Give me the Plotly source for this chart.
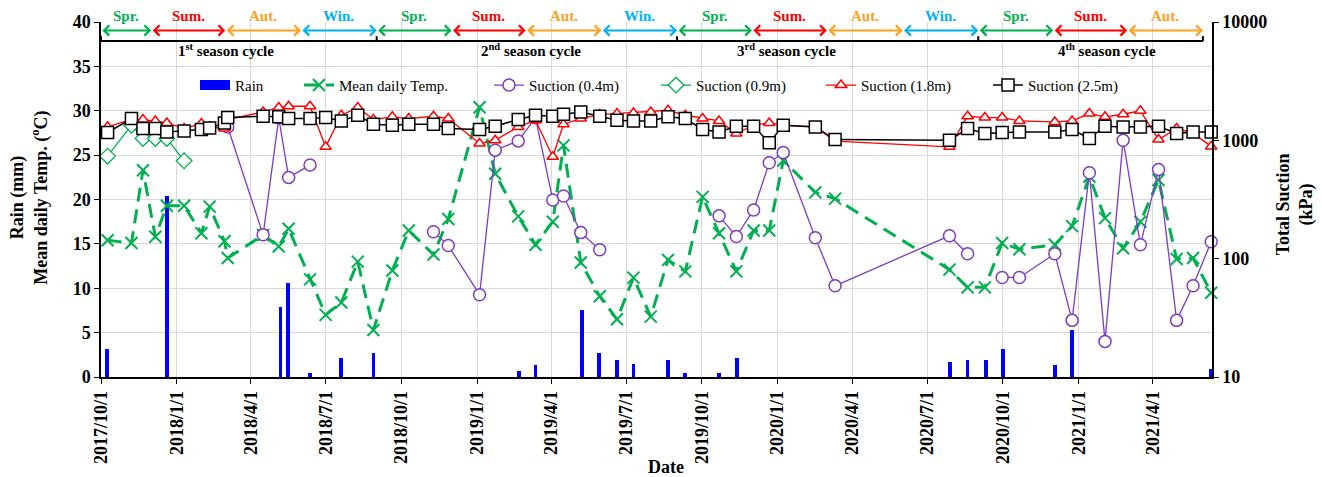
import pandas as pd
import plotly.graph_objects as go

SERIF = "Liberation Serif"

# ---- field records -------------------------------------------------------
sample_dates = [
    "2017-10-09", "2017-11-07", "2017-11-21", "2017-12-06", "2017-12-20",
    "2018-01-10", "2018-01-31", "2018-02-10", "2018-02-28", "2018-03-04",
    "2018-04-16", "2018-05-05", "2018-05-17", "2018-06-12", "2018-07-01",
    "2018-07-20", "2018-08-09", "2018-08-28", "2018-09-20", "2018-10-10",
    "2018-11-09", "2018-11-27", "2019-01-04", "2019-01-23", "2019-02-20",
    "2019-03-13", "2019-04-03", "2019-04-16", "2019-05-07", "2019-05-30",
    "2019-06-20", "2019-07-10", "2019-07-31", "2019-08-21", "2019-09-11",
    "2019-10-02", "2019-10-22", "2019-11-12", "2019-12-03", "2019-12-22",
    "2020-01-08", "2020-02-16", "2020-03-11", "2020-07-28", "2020-08-19",
    "2020-09-09", "2020-09-30", "2020-10-21", "2020-12-03", "2020-12-24",
    "2021-01-14", "2021-02-02", "2021-02-24", "2021-03-17", "2021-04-08",
    "2021-04-30", "2021-05-20", "2021-06-11",
]

mean_temp = [
    15.4, 15.1, 23.3, 15.8, 19.3, 19.3, 16.2, 19.2, 15.3, 13.4,
    16.0, 14.7, 16.7, 11.0, 7.0, 8.4, 13.0, 5.3, 12.0, 16.5,
    13.8, 17.8, 30.4, 22.9, 18.1, 14.9, 17.5, 26.1, 12.9, 9.1,
    6.5, 11.2, 6.8, 13.2, 11.9, 20.3, 16.2, 11.9, 16.5, 16.5,
    24.4, 20.8, 20.1, 12.1, 10.1, 10.1, 15.1, 14.4, 14.9, 17.0,
    22.6, 17.9, 14.5, 17.5, 22.2, 13.3, 13.4, 9.5,
]

suction_04 = [
    None, None, None, None, None, None, None, None, None, 1298,
    159, 1550, 486, 618, None, None, None, None, None, None,
    169, 129, 49.6, 826, 989, 1550, 313, 338, 166, 119,
    None, None, None, None, None, None, 230, 154, 258, 646,
    790, 150, 59, 156, 110, None, 69.4, 69.4, 110, 30.1,
    532, 20, 1003, 131, 568, 30.1, 59, 139,
]

suction_09 = [735, 1343, 1038, 1038, 1038, 671] + [None] * 52

suction_18 = [
    1300, 1500, 1500, 1459, 1403, 1259, 1387, 1300, 1259, 1500,
    1737, 1892, 1941, 1941, 881, 1629, 1892, 1500, 1580, 1528,
    1598, 1528, 941, 1003, 1298, 1479, 726, 1368, 1528, 1650,
    1684, 1700, 1737, 1795, 1629, 1528, 1459, 1142, 1342, 1403,
    1342, 1298, 984, 881, 1598, 1558, 1558, 1459, 1431, 1459,
    1684, 1580, 1661, 1775, 1016, 1259, 1150, 889,
]

suction_25 = [
    1165, 1528, 1259, 1259, 1178, 1202, 1234, 1274, 1400, 1558,
    1598, 1580, 1528, 1528, 1558, 1459, 1629, 1368, 1342, 1368,
    1368, 1259, 1234, 1316, 1500, 1629, 1598, 1661, 1737, 1598,
    1479, 1459, 1459, 1580, 1528, 1234, 1178, 1316, 1316, 952,
    1342, 1298, 1016, 1003, 1259, 1142, 1165, 1178, 1178, 1234,
    1037, 1316, 1298, 1298, 1316, 1142, 1178, 1178,
]

rain_dates = [
    "2017-10-08", "2017-12-20", "2018-05-07", "2018-05-16", "2018-06-12",
    "2018-07-20", "2018-08-28", "2019-02-21", "2019-03-13", "2019-05-08",
    "2019-05-29", "2019-06-20", "2019-07-10", "2019-08-21", "2019-09-11",
    "2019-10-22", "2019-11-13", "2020-07-29", "2020-08-19", "2020-09-10",
    "2020-10-01", "2020-12-03", "2020-12-24", "2021-06-11",
]
rain_mm = [
    3.2, 20.4, 7.9, 10.6, 0.4, 2.1, 2.7, 0.7, 1.3, 7.5,
    2.7, 1.9, 1.5, 1.9, 0.4, 0.4, 2.1, 1.7, 1.9, 1.9,
    3.2, 1.3, 5.3, 0.9,
]

# ---- season / cycle bands ------------------------------------------------
season_names = ["Spr.", "Sum.", "Aut.", "Win."] * 3 + ["Spr.", "Sum.", "Aut."]
season_bounds = [
    "2017-10-01", "2017-12-01", "2018-03-01", "2018-06-01", "2018-09-01",
    "2018-12-01", "2019-03-01", "2019-06-01", "2019-09-01", "2019-12-01",
    "2020-03-01", "2020-06-01", "2020-09-01", "2020-12-01", "2021-03-01",
    "2021-06-01",
]
season_colors = {"Spr.": "#00B050", "Sum.": "#FF0000",
                 "Aut.": "#FFA11F", "Win.": "#00B0F0"}

cycle_names = ["1<sup>st</sup> season cycle", "2<sup>nd</sup> season cycle",
               "3<sup>rd</sup> season cycle", "4<sup>th</sup> season cycle"]
cycle_bounds = ["2017-10-01", "2018-09-01", "2019-09-01", "2020-09-01", "2021-06-01"]
cycle_label_dates = ["2018-03-02", "2019-03-07", "2020-01-12", "2021-02-05"]

quarter_ticks = [
    "2017-10-01", "2018-01-01", "2018-04-01", "2018-07-01", "2018-10-01",
    "2019-01-01", "2019-04-01", "2019-07-01", "2019-10-01", "2020-01-01",
    "2020-04-01", "2020-07-01", "2020-10-01", "2021-01-01", "2021-04-01",
]
quarter_labels = [
    "2017/10/1", "2018/1/1", "2018/4/1", "2018/7/1", "2018/10/1",
    "2019/1/1", "2019/4/1", "2019/7/1", "2019/10/1", "2020/1/1",
    "2020/4/1", "2020/7/1", "2020/10/1", "2021/1/1", "2021/4/1",
]

GREEN = "#00B050"
PURPLE = "#7E3BC0"
RED = "#FF0000"
BLUE = "#0000FF"
GRID = "#D9D9D9"

fig = go.Figure()

# rainfall bars (left axis)
fig.add_trace(go.Bar(
    x=rain_dates, y=rain_mm, name="Rain", marker_color=BLUE,
    marker_line_width=0, width=4.6 * 86400000, showlegend=False,
))
# legend swatch for rain as a wide block
fig.add_trace(go.Scatter(
    x=[None], y=[None], mode="lines", name="Rain",
    line=dict(color=BLUE, width=10), legend="legend",
))

# mean daily temperature (left axis)
fig.add_trace(go.Scatter(
    x=sample_dates, y=mean_temp, name="Mean daily Temp.", mode="lines+markers",
    line=dict(color=GREEN, width=3, dash="14px,8px"),
    marker=dict(symbol="x-thin", size=12, line=dict(color=GREEN, width=2)),
    legend="legend2", cliponaxis=False,
))

# suction series (right log axis)
fig.add_trace(go.Scatter(
    x=sample_dates, y=suction_04, name="Suction (0.4m)", yaxis="y2",
    mode="lines+markers", connectgaps=False,
    line=dict(color=PURPLE, width=1.3),
    marker=dict(symbol="circle", size=12, color="white",
                line=dict(color=PURPLE, width=1.5)),
    legend="legend3", cliponaxis=False,
))
fig.add_trace(go.Scatter(
    x=sample_dates, y=suction_09, name="Suction (0.9m)", yaxis="y2",
    mode="lines+markers",
    line=dict(color=GREEN, width=1.3),
    marker=dict(symbol="diamond", size=12, color="white",
                line=dict(color=GREEN, width=1.3)),
    legend="legend4", cliponaxis=False,
))
fig.add_trace(go.Scatter(
    x=sample_dates, y=suction_18, name="Suction (1.8m)", yaxis="y2",
    mode="lines+markers",
    line=dict(color=RED, width=1.3),
    marker=dict(symbol="triangle-up", size=10, color="white",
                line=dict(color=RED, width=1.5)),
    legend="legend5", cliponaxis=False,
))
fig.add_trace(go.Scatter(
    x=sample_dates, y=suction_25, name="Suction (2.5m)", yaxis="y2",
    mode="lines+markers",
    line=dict(color="black", width=1.5),
    marker=dict(symbol="square", size=12, color="white",
                line=dict(color="black", width=1.5)),
    legend="legend6", cliponaxis=False,
))

# ---- season arrows, cycle brackets --------------------------------------
LABEL_Y_PAPER = 1.018          # season names sit just above the plot frame
ARROW_Y, BRACKET_Y, CYCLE_Y = 39.05, 37.85, 36.8
shapes = []
annotations = []
for name, start, end in zip(season_names, season_bounds[:-1], season_bounds[1:]):
    col = season_colors[name]
    annotations.append(dict(
        x=end, y=ARROW_Y, ax=start, ay=ARROW_Y, xref="x", yref="y",
        axref="x", ayref="y", text="", showarrow=True, arrowside="end+start",
        arrowhead=4, startarrowhead=4, arrowsize=1, startarrowsize=1,
        arrowwidth=2, arrowcolor=col, standoff=0, startstandoff=0,
    ))
    mid = pd.Timestamp(start) + (pd.Timestamp(end) - pd.Timestamp(start)) / 2
    annotations.append(dict(
        x=mid.strftime("%Y-%m-%d %H:%M"), y=LABEL_Y_PAPER, xref="x", yref="paper",
        text=name, showarrow=False, yanchor="middle",
        font=dict(family=SERIF, size=15, color=col, weight="bold"),
    ))

shapes.append(dict(type="line", xref="x", yref="y",
                   x0=cycle_bounds[0], x1=cycle_bounds[-1],
                   y0=BRACKET_Y, y1=BRACKET_Y,
                   line=dict(color="black", width=2)))
for b in cycle_bounds:
    shapes.append(dict(type="line", xref="x", yref="y", x0=b, x1=b,
                       y0=BRACKET_Y, y1=BRACKET_Y + 0.55,
                       line=dict(color="black", width=2)))
for name, d in zip(cycle_names, cycle_label_dates):
    annotations.append(dict(
        x=d, y=CYCLE_Y, xref="x", yref="y", text=name, showarrow=False,
        font=dict(family=SERIF, size=15, color="black", weight="bold"),
    ))

# axis titles
title_font = dict(family=SERIF, size=18, color="black", weight="bold")
annotations.append(dict(
    x=-0.0648, y=0.505, xref="paper", yref="paper", textangle=-90,
    text="Rain (mm)<br>Mean daily Temp. (<sup>o</sup>C)", showarrow=False,
    font=title_font, xanchor="center", yanchor="middle",
))
annotations.append(dict(
    x=1.0743, y=0.485, xref="paper", yref="paper", textangle=-90,
    text="Total Suction<br>(kPa)", showarrow=False,
    font=title_font, xanchor="center", yanchor="middle",
))
annotations.append(dict(
    x=0.509, y=-0.254, xref="paper", yref="paper", text="Date",
    showarrow=False, font=title_font, xanchor="center", yanchor="middle",
))

# ---- legends: one per entry so each sits at its own spot ---------------
legend_font = dict(family=SERIF, size=15, color="black")
legend_px = [203, 307, 497, 664, 829, 996]
legend_common = dict(orientation="h", yanchor="middle", y=0.8216,
                     xanchor="left", font=legend_font,
                     bgcolor="rgba(0,0,0,0)", borderwidth=0)
legend_layout = {}
for i, px in enumerate(legend_px):
    key = "legend" if i == 0 else f"legend{i + 1}"
    legend_layout[key] = dict(legend_common, x=(px - 8 - 101) / 1111)

tick_font = dict(family=SERIF, size=18, color="black", weight="bold")

fig.update_layout(
    width=1322, height=477,
    margin=dict(l=101, r=110, t=21.5, b=99.5, pad=0),
    paper_bgcolor="white", plot_bgcolor="white",
    bargap=0,
    shapes=shapes, annotations=annotations,
    xaxis=dict(
        type="date", range=["2017-10-01", "2021-06-12"],
        tickvals=quarter_ticks, ticktext=quarter_labels, tickangle=-90,
        tickfont=tick_font, showgrid=True, gridcolor=GRID, gridwidth=1,
        showline=True, linecolor="black", linewidth=1.5,
        ticks="outside", ticklen=5, tickcolor="black", zeroline=False,
    ),
    yaxis=dict(
        range=[0, 40], dtick=5, tick0=0, tickfont=tick_font,
        showgrid=True, gridcolor=GRID, gridwidth=1,
        showline=True, linecolor="black", linewidth=1.5,
        ticks="outside", ticklen=5, tickcolor="black", zeroline=False,
    ),
    yaxis2=dict(
        type="log", range=[1, 4], overlaying="y", side="right",
        tickvals=[10, 100, 1000, 10000], ticktext=["10", "100", "1000", "10000"],
        tickfont=tick_font, showgrid=False,
        showline=True, linecolor="black", linewidth=1.5,
        ticks="outside", ticklen=5, tickcolor="black", zeroline=False,
    ),
    **legend_layout,
)

fig.write_html("out.html")
